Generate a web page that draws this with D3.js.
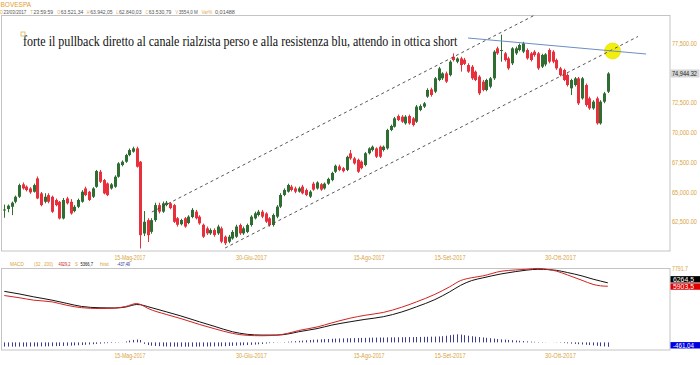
<!DOCTYPE html>
<html><head><meta charset="utf-8">
<script src="https://cdn.jsdelivr.net/npm/d3@7"></script>
<style>html,body{margin:0;padding:0;background:#fff;}svg{display:block;font-family:"Liberation Sans",Arial,sans-serif;}</style>
</head><body><svg id="c" width="700" height="365"></svg>
<script>
// ---------- DATA ----------
const opens=[63521,63571,63761,64181,64601,65640,65450,65300,65020,66140,
64880,64180,64740,64600,64330,64180,62780,64460,64180,63400,
63760,64180,65300,65020,64600,65440,66700,66000,65720,65300,
65440,66280,67260,67540,68100,68380,68660,67540,61520,62640,
61660,62640,63900,63350,63900,64050,63900,62800,62300,62800,
62400,62900,63350,62930,62250,61950,61530,61810,61530,61950,
61250,60830,61100,61250,62230,61530,61650,62230,62790,63070,
63350,63200,62790,62230,62930,63770,64750,65030,65450,65300,
65030,65450,65170,64610,65700,65300,65650,65300,65700,66000,
66700,67150,67000,66850,68240,67820,67700,67550,67260,68250,
68520,68660,68800,68520,68660,70200,70480,71375,71320,70760,
71375,71180,70900,71880,72160,73000,73610,73420,74400,74540,
74950,74810,76350,75930,76210,76100,75650,75514,75094,74675,
74255,73556,73836,74535,77052,76850,76633,76213,75794,76633,
76912,76773,76912,76633,76773,76633,75514,75700,76912,76773,
76073,75374,75234,74815,73700,73975,74535,72857,73975,72857,
72018,72857,70759,72577,73416];
const highs=[63942,63950,64200,64700,65700,65800,65550,65400,65700,66300,
65000,64900,64900,64700,64450,64250,64500,64600,64400,63900,
64450,65150,65450,65100,65400,66850,66850,66100,65800,65750,
66400,67500,67650,68200,68650,68800,68800,67600,63400,62800,
62800,64100,64100,64200,64250,64150,64000,62900,62750,62900,
63050,63650,63500,63050,62350,62100,61950,61950,62250,62100,
61350,61400,61800,62250,62350,62100,62350,63050,63350,63500,
63500,63300,62900,63200,63900,64900,65300,65700,65600,65450,
65450,65600,65300,65150,65850,65900,65750,65800,66200,66700,
67300,67300,67100,68050,68520,67950,67800,67650,68350,68750,
68900,68750,68900,68900,70300,70650,71300,71500,71450,71450,
71500,71300,72300,72350,72550,73700,73750,74650,75500,75050,
75100,76050,76630,76300,76350,76250,75800,75650,75200,74800,
74400,74500,74650,76900,77200,78200,76750,76350,77150,77200,
77450,77600,77050,76750,76900,76750,76600,76650,77050,76900,
76200,75500,75350,74950,74500,74650,74650,74650,74100,73000,
72700,73000,72700,73400,75050];
const lows=[62840,63300,63061,64050,64500,65200,65050,64850,64950,64400,
63800,64050,64050,63250,63800,62700,62700,63950,63100,63300,
63650,64100,64650,64250,64500,65350,65750,64800,64650,65200,
65350,66200,67150,67450,68000,68300,67050,60260,61300,60800,
61500,62500,63200,63250,63800,63550,62400,62100,62200,62000,
62300,62800,62700,62250,61150,61400,61400,61250,61400,60700,
60550,60700,61000,61150,61400,61400,61550,62100,62700,62950,
62800,62400,62100,62100,62800,63650,64650,64950,65050,64900,
64950,64800,64650,64500,65100,65200,65100,65200,65600,65900,
66600,66750,66650,66750,67700,67300,66600,66900,67150,68150,
68400,67850,67850,68400,68550,70100,70400,70950,70800,70650,
70650,70500,70800,71780,72050,72900,73000,73300,74300,74400,
74150,74700,75950,75800,75100,75650,75000,74400,74300,73136,
73450,73450,73700,74400,76500,75930,75950,75250,75650,76500,
76800,76650,76100,75950,76350,75250,75400,75550,75800,75800,
75250,74700,74300,73850,73136,73850,72300,72750,72150,71900,
71900,70650,70650,72450,73300];
const closes=[63531,63851,64101,64601,65581,65301,65160,64970,65580,64460,
63900,64600,64180,63340,63900,62780,64330,64050,63200,63760,
64330,65020,64740,64330,65300,66760,65860,64880,64740,65640,
66280,67400,67540,68100,68520,68660,67120,61380,62500,61380,
62640,63900,63350,64050,64100,63650,62500,62250,62650,62100,
62930,63500,62800,62370,61250,61530,61810,61390,62100,60830,
60700,61250,61650,62100,61530,61950,62230,62930,63210,63350,
62930,62510,62230,63070,63770,64750,65170,65590,65170,65030,
65310,64890,64750,65030,65200,65800,65200,65700,66100,66600,
67200,66850,66750,67950,67820,67400,66700,67000,68250,68660,
68800,67960,67960,68800,70200,70540,71180,71040,70900,71320,
70760,70620,72160,72210,72440,73560,73140,74540,75370,74950,
74260,75930,76070,76200,75650,75750,75100,74535,74395,73276,
73556,74395,74535,76773,76633,76912,76073,75374,77052,77052,
77332,77472,76213,76073,76493,75374,76493,76550,75933,75933,
75374,74815,74395,73975,74395,74535,72437,74535,72297,72018,
72577,70759,72577,73276,74944];

const xTickIdx=[34,67,99,121,151];
const xTickLabels=["15-Mag-2017","30-Giu-2017","15-Ago-2017","15-Set-2017","30-Ott-2017"];
const yTickValues=[62500,65000,67500,70000,72500,77500];
const lastPrice=74944.32;

const channelUpper=[[40.1,63321],[144.2,79849]];
const channelLower=[[60,60300],[172.2,78045]];
const blueLine=[[126,77920],[174.4,76577]];
const yellowMark=[165.3,76829];

const macdIdx=[0,4,8,13,17,21,26,30,33,36,37,39,44,48,53,57,62,66,70,74,77,80,85,89,94,98,103,108,112,117,121,124,127,130,135,139,142,145,148,150,153,157,160,162,164];
const macdVals=[4929,4700,4440,4260,3900,3650,3560,3600,3780,4090,3990,3580,2940,2500,1890,1450,950,740,700,760,950,1250,1620,2050,2550,2850,3150,3700,4260,5050,5840,6500,6800,6990,7480,7620,7690,7780,7650,7500,7100,6530,6100,5950,5903.5];
const signalVals=[5367,5100,4790,4440,4100,3780,3640,3620,3720,3980,3960,3760,3220,2780,2170,1700,1120,850,770,770,880,1120,1450,1820,2170,2420,2700,3200,3740,4500,5310,6000,6500,6780,7200,7450,7600,7690,7650,7580,7350,6990,6650,6450,6264.5];
const histVals=[-437,-440,-442,-445,-445,-443,-440,-435,-430,-425,-420,-415,-410,-400,-390,-380,-370,-355,-340,-320,
-300,-280,-250,-220,-190,-160,-130,-100,-80,-60,-40,-25,-10,
100,200,260,300,250,
-150,-280,-350,-380,-400,-420,-430,-440,-445,-450,-450,-450,-448,-445,-440,-440,-435,-430,-425,-420,-415,-410,-400,
-380,-360,-340,-320,-300,-280,-260,-230,
-200,-160,-120,-80,-50,-20,10,40,70,
100,130,160,190,220,250,280,300,320,340,360,380,400,410,420,430,440,450,460,470,480,490,500,
505,515,510,520,530,525,540,545,550,560,555,570,575,580,590,600,610,620,
650,700,760,810,850,820,760,700,650,
600,560,520,480,440,400,360,320,290,260,230,200,170,140,110,80,60,40,
30,15,5,-10,-20,-40,
-70,-100,-130,-160,-190,-220,-250,-280,-320,-360,-400,-430,-461];
const macdLast=5903.5, signalLast=6264.5, histLast=-461.04, macdTop=7791.7;

// ---------- DRAW ----------
const svg=d3.select("#c");
const N=closes.length;
const GOLD="#d9a441", GREEN="#2e6e33", RED="#e8303c";
const x=d3.scaleLinear().domain([0,N-1]).range([4.3,607.8]);
const y=d3.scaleLinear().domain([60050,79850]).range([251,15]);
const ym=d3.scaleLinear().domain([-800,macdTop]).range([350,268.3]);
// squeeze a text horizontally to a given width (keeps its real bounding box)
const fit=(sel,w)=>{const L=sel.node().getComputedTextLength(); const x0=+sel.attr("x")||0;
  sel.attr("transform",`translate(${x0},0) scale(${w/L},1) translate(${-x0},0)`); return sel;};

// header
svg.append("text").attr("x",0.5).attr("y",6.5).attr("font-size",6.5).attr("fill","#e39b32").text("BOVESPA");
const info=[["D",0.3,2.6,1],["23/03/2017",3.4,23,0],["T",30.6,2.4,1],["23:59:59",33.6,19.5,0],["O",57.2,3,1],["63.521,34",60.8,22.5,0],
["H",86.8,2.8,1],["63.942,05",90.2,22.5,0],["L",116.2,2.2,1],["62.840,03",119,22.5,0],["C",145.4,2.8,1],["63.530,79",148.8,22.5,0],
["V",175.6,2.6,1],["3554,0 M",178.8,19,0],["Var%",201.5,11,1],["0,01488",215,20,0]];
info.forEach(d=>{fit(svg.append("text").attr("x",d[1]).attr("y",14.5).attr("font-size",5.6).attr("fill",d[3]?"#e6a955":"#555").text(d[0]),d[2]);});

// panels
svg.append("rect").attr("x",1.5).attr("y",15.5).attr("width",668.5).attr("height",235.5).attr("fill","none").attr("stroke","#c4c4c4");
svg.append("rect").attr("x",1.5).attr("y",268.5).attr("width",668.5).attr("height",81.5).attr("fill","none").attr("stroke","#c4c4c4");

// annotation
svg.append("rect").attr("x",21).attr("y",32).attr("width",4).attr("height",4).attr("fill","#fff").attr("stroke","#d9b565").attr("stroke-width",0.8);
fit(svg.append("text").attr("x",23).attr("y",46.5).attr("font-family","'Liberation Serif','Times New Roman',serif").attr("font-size",15).attr("fill","#111")
  .text("forte il pullback diretto al canale rialzista perso e alla resistenza blu, attendo in ottica short"),435);

// yellow marker
svg.append("circle").attr("cx",x(yellowMark[0])).attr("cy",y(yellowMark[1])).attr("r",8).attr("fill","#f3ef0c").attr("stroke","#e2da00").attr("stroke-width",0.6);

// candles
const cg=svg.append("g");
d3.range(N).forEach(i=>{
  const up=closes[i]>=opens[i], col=up?GREEN:RED, cx=Math.round(x(i))+0.5;
  cg.append("line").attr("x1",cx).attr("x2",cx).attr("y1",y(highs[i])).attr("y2",y(lows[i])).attr("stroke",col).attr("stroke-width",1);
  const t=y(Math.max(opens[i],closes[i])), b=y(Math.min(opens[i],closes[i]));
  cg.append("rect").attr("x",cx-1.5).attr("y",t).attr("width",3).attr("height",Math.max(1,b-t)).attr("fill",col);
});

// drawn lines
const pl=d3.line().x(d=>x(d[0])).y(d=>y(d[1]));
svg.append("path").attr("d",pl(channelUpper)).attr("stroke","#444").attr("stroke-dasharray","3,3").attr("fill","none").attr("stroke-width",0.9);
svg.append("path").attr("d",pl(channelLower)).attr("stroke","#444").attr("stroke-dasharray","3,3").attr("fill","none").attr("stroke-width",0.9);
svg.append("path").attr("d",pl(blueLine)).attr("stroke","#6d8dc4").attr("fill","none").attr("stroke-width",1);

// y axis main
const ya=svg.append("g").attr("transform","translate(672,0)").call(d3.axisRight(y).tickValues(yTickValues).tickFormat(d3.format(",.2f")).tickSize(0).tickPadding(0));
ya.select(".domain").remove();
ya.selectAll("text").attr("font-size",6.5).attr("fill",GOLD).attr("font-family","'Liberation Sans',Arial,sans-serif").each(function(){fit(d3.select(this),25);});
svg.append("rect").attr("x",670.5).attr("y",y(lastPrice)-4).attr("width",29).attr("height",8).attr("fill","#d6d6d6");
fit(svg.append("text").attr("x",672).attr("y",y(lastPrice)+2.3).attr("font-size",6.5).attr("fill","#222").text(d3.format(",.2f")(lastPrice)),25);

// x axes
function xAxis(ty){
  const g=svg.append("g").attr("transform",`translate(0,${ty})`).call(d3.axisBottom(x).tickValues(xTickIdx).tickFormat((d,i)=>xTickLabels[i]).tickSize(0).tickPadding(3));
  g.select(".domain").remove();
  g.selectAll("text").attr("font-size",7).attr("fill",GOLD).attr("font-family","'Liberation Sans',Arial,sans-serif").each(function(){fit(d3.select(this),31);});
}
xAxis(252); xAxis(350);

// MACD header
const mh=[["MACD",10,14,"#d9a441"],["(32 , 200)",34,19,"#d9a441"],["4929,2",58.5,12,"#c82525"],["S",75,3,"#d9a441"],["5366,7",80.5,12.5,"#111"],["hist",100,9,"#d9a441"],["-437,49",117,13,"#2a2a9a"]];
mh.forEach(d=>{fit(svg.append("text").attr("x",d[1]).attr("y",266).attr("font-size",6).attr("fill",d[3]).text(d[0]),d[2]);});

// histogram
const hg=svg.append("g");
histVals.forEach((h,i)=>{const cx=Math.round(x(i))+0.5;
  hg.append("line").attr("x1",cx).attr("x2",cx).attr("y1",ym(0)).attr("y2",ym(h)).attr("stroke","#3b3b8f").attr("stroke-width",1);});

// macd lines
const ml=d3.line().x((d,i)=>x(macdIdx[i])).y(d=>ym(d)).curve(d3.curveMonotoneX);
svg.append("path").attr("d",ml(signalVals)).attr("stroke","#111").attr("fill","none").attr("stroke-width",1);
svg.append("path").attr("d",ml(macdVals)).attr("stroke","#d42020").attr("fill","none").attr("stroke-width",1);

// macd right labels
fit(svg.append("text").attr("x",672).attr("y",271).attr("font-size",6.5).attr("fill",GOLD).text(String(macdTop)),16);
function box(v,cy,bg,label){
  svg.append("rect").attr("x",670.5).attr("y",cy-3.2).attr("width",29.5).attr("height",6.4).attr("fill",bg);
  fit(svg.append("text").attr("x",673).attr("y",cy+2.3).attr("font-size",6.5).attr("fill","#fff").text(label),21);
}
box(signalLast,ym(signalLast)-3.5,"#000","6264,5");
box(macdLast,ym(macdLast)+0.3,"#e00000","5903,5");
box(histLast,ym(histLast)-1.5,"#0000e0","-461,04");
</script></body></html>
